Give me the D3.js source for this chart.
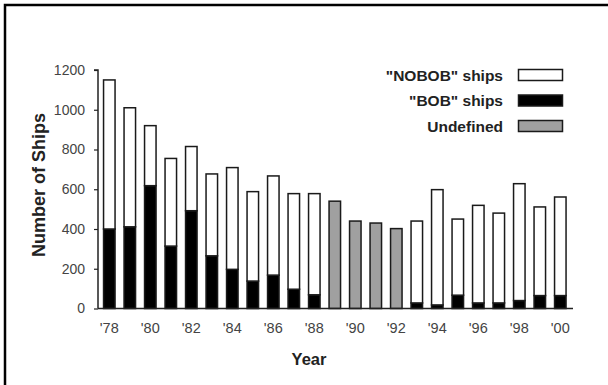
<!DOCTYPE html>
<html><head><meta charset="utf-8">
<script src="https://cdn.jsdelivr.net/npm/d3@7"></script>
<style>body{margin:0;background:#fff}svg{display:block}text{font-family:"Liberation Sans",Arial,sans-serif}</style>
</head><body>
<svg id="c" width="608" height="385"></svg>
<script>
const years = ["'78","'79","'80","'81","'82","'83","'84","'85","'86","'87","'88","'89","'90","'91","'92","'93","'94","'95","'96","'97","'98","'99","'00"];
const bob =       [400,411,618,314,492,265,197,138,168, 97, 69,  0,  0,  0,  0, 28, 18, 67, 28, 28, 40, 65, 65];
const nobob =     [750,599,302,441,323,412,512,450,499,481,509,  0,  0,  0,  0,412,580,383,491,452,588,446,496];
const undefinedS = [ 0,  0,  0,  0,  0,  0,  0,  0,  0,  0,  0,540,440,430,402,  0,  0,  0,  0,  0,  0,  0,  0];
const yTicks = [0,200,400,600,800,1000,1200];
const xTickLabels = ["'78","'80","'82","'84","'86","'88","'90","'92","'94","'96","'98","'00"];
const seriesNames = ['"NOBOB" ships','"BOB" ships','Undefined'];
const seriesColors = ["#ffffff","#000000","#a0a0a0"];

const svg = d3.select("#c");
svg.append("path").attr("d","M5,385 L5,5 L608,5").attr("fill","none").attr("stroke","#000").attr("stroke-width",2.5);

const x = d3.scaleBand().domain(years).range([102.8,566.8]).paddingInner(0.366).paddingOuter(0);
const y = d3.scaleLinear().domain([0,1200]).range([308.5,70]);

const data = years.map((yr,i)=>({yr, bob:bob[i], nobob:nobob[i], und:undefinedS[i]}));
const stack = d3.stack().keys(["bob","nobob","und"])(data);
const fills = {bob:"#000000", nobob:"#ffffff", und:"#a0a0a0"};

stack.forEach(s=>{
  svg.append("g").selectAll("rect").data(s.filter(d=>d[1]-d[0]>0)).join("rect")
    .attr("x",d=>x(d.data.yr)+0.75)
    .attr("width",x.bandwidth()-1.5)
    .attr("y",d=>y(d[1]))
    .attr("height",d=>y(d[0])-y(d[1]))
    .attr("fill",fills[s.key])
    .attr("stroke","#1a1a1a").attr("stroke-width",1.5);
});

const ya = svg.append("g").attr("transform","translate(98,0)")
  .call(d3.axisLeft(y).tickValues(yTicks).tickFormat(d3.format("d")).tickSize(4).tickPadding(9));
ya.select(".domain").attr("stroke","#222").attr("stroke-width",1.5).attr("d","M-4,70H0V308.5");
ya.selectAll(".tick line").attr("stroke","#222").attr("stroke-width",1.2);
ya.selectAll("text").attr("font-size",14).attr("fill","#444");

const xa = svg.append("g").attr("transform","translate(0,308.5)")
  .call(d3.axisBottom(x).tickValues(xTickLabels).tickSize(0).tickPadding(14));
xa.select(".domain").attr("stroke","#222").attr("stroke-width",1.5).attr("d","M98,0H573");
xa.selectAll("text").attr("font-size",14.5).attr("fill","#444");

svg.append("text").attr("transform","translate(45,185) rotate(-90)").attr("text-anchor","middle")
  .attr("font-size",18).attr("font-weight","bold").attr("fill","#222").text("Number of Ships");
svg.append("text").attr("x",309).attr("y",365).attr("text-anchor","middle")
  .attr("font-size",16.5).attr("font-weight","bold").attr("fill","#222").text("Year");

const lg = svg.append("g");
seriesNames.forEach((n,i)=>{
  const yy = 75 + i*25.5;
  lg.append("rect").attr("x",518.5).attr("y",yy-5.5).attr("width",44).attr("height",11)
    .attr("fill",seriesColors[i]).attr("stroke","#1a1a1a").attr("stroke-width",1.5);
  lg.append("text").attr("x",503).attr("y",yy+5.5).attr("text-anchor","end")
    .attr("font-size",15.5).attr("font-weight","bold").attr("fill","#222").text(n);
});
</script>
</body></html>
